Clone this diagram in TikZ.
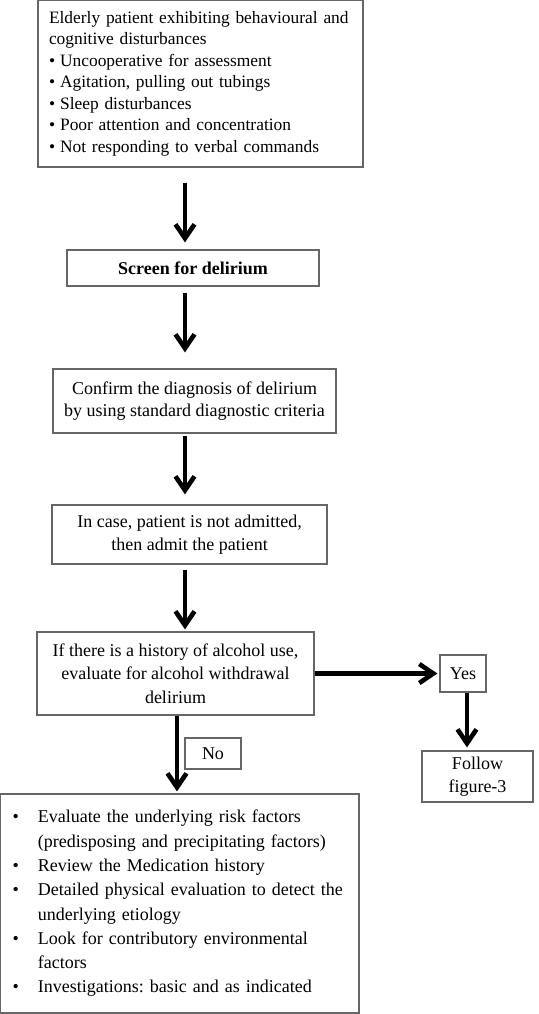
\documentclass[tikz,border=0pt]{standalone}
\usepackage{fontspec}
\setmainfont{Liberation Serif}
\usetikzlibrary{arrows.meta}
\newcommand{\bul}{\makebox[16.5pt][l]{\hspace{3.75pt}\textbullet}}
\newcommand{\ind}{\hspace*{16.5pt}}
\frenchspacing

\begin{document}
\begin{tikzpicture}[x=0.5pt, y=-0.5pt,
    box/.style={draw=black!60, line width=0.6pt, align=center, inner sep=0pt,
        font=\fontsize{9}{11.25}\selectfont},
    flow/.style={line width=2.3pt, -{Straight Barb[length=7pt,width=9.5pt]}}]
    \useasboundingbox (0,0) rectangle (538,1014);
    \coordinate (colA) at (185,0);
    \coordinate (colB) at (177,0);
    \coordinate (colC) at (467,0);
    \node[box, minimum width=162.5pt, minimum height=83.5pt, text width=151.5pt,
        align=left, font=\fontsize{8.7}{10.75}\selectfont] (signs) at (200.5,83.5)
        {\mbox{Elderly patient exhibiting behavioural and}\\ cognitive disturbances\\
         \textbullet\hspace{2.5pt}Uncooperative for assessment\\
         \textbullet\hspace{2.5pt}Agitation, pulling out tubings\\
         \textbullet\hspace{2.5pt}Sleep disturbances\\
         \textbullet\hspace{2.5pt}Poor attention and concentration\\
         \textbullet\hspace{2.5pt}Not responding to verbal commands};
    \node[box, minimum width=126pt, minimum height=18pt] (screen) at (193,268)
        {\textbf{Screen for delirium}};
    \node[box, minimum width=141.5pt, minimum height=32pt] (confirm) at (194.5,401)
        {Confirm the diagnosis of delirium\\ by using standard diagnostic criteria};
    \node[box, minimum width=137.5pt, minimum height=29.5pt] (admit) at (189.5,534.5)
        {In case, patient is not admitted,\\ then admit the patient};
    \node[box, minimum width=138.5pt, minimum height=41.5pt, font=\fontsize{9}{11.75}\selectfont]
        (alcohol) at (175.5,673.5)
        {If there is a history of alcohol use,\\ evaluate for alcohol withdrawal\\ delirium};
    \node[box, minimum width=23pt, minimum height=18.5pt] (yes) at (463,673.5) {Yes};
    \node[box, minimum width=55.5pt, minimum height=25.5pt] (follow) at (477.5,776.5)
        {Follow\\ figure-3};
    \node[box, minimum width=28pt, minimum height=15.5pt] (no) at (213,753.5) {No};
    \node[box, minimum width=179.5pt, minimum height=109.5pt, text width=174.5pt,
        align=left, font=\fontsize{9}{12.15}\selectfont] (workup) at (179.5,903.5)
        {\bul Evaluate the underlying risk factors\\
         \ind(predisposing and precipitating factors)\\
         \bul Review the Medication history\\
         \bul Detailed physical evaluation to detect the\\
         \ind underlying etiology\\
         \bul Look for contributory environmental\\
         \ind factors\\
         \bul Investigations: basic and as indicated};
    \draw[flow, shorten <=7.5pt, shorten >=3.5pt] (signs.south -| colA) -- (screen.north -| colA);
    \draw[flow, shorten <=3pt, shorten >=8pt] (screen.south -| colA) -- (confirm.north -| colA);
    \draw[flow, shorten <=1pt, shorten >=5pt] (confirm.south -| colA) -- (admit.north -| colA);
    \draw[flow, shorten <=2.5pt, shorten >=1pt] (admit.south -| colA) -- (alcohol.north -| colA);
    \draw[flow, shorten >=1pt] (alcohol.east) -- (yes.west);
    \draw[flow, shorten >=1.5pt] (yes.south -| colC) -- (follow.north -| colC);
    \draw[flow, shorten >=1pt] (alcohol.south -| colB) -- (workup.north -| colB);
\end{tikzpicture}
\end{document}
